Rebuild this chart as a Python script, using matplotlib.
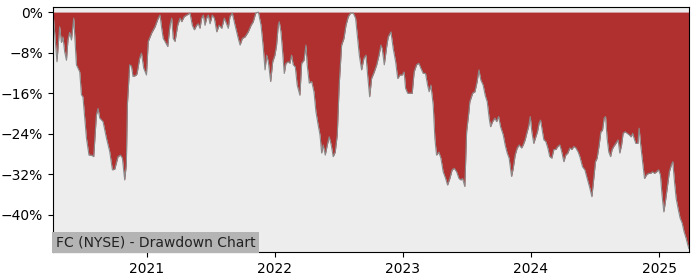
import matplotlib
matplotlib.use("Agg")
import matplotlib.pyplot as plt
import matplotlib.dates as mdates
from matplotlib.ticker import PercentFormatter, MultipleLocator
import pandas as pd

# dates as decimal years, drawdown in percent
years = [
    2020.268, 2020.281, 2020.299, 2020.320, 2020.334, 2020.346, 2020.359, 2020.373, 2020.385, 2020.398,
    2020.412, 2020.430, 2020.451, 2020.477, 2020.490, 2020.502, 2020.529, 2020.549, 2020.568, 2020.586,
    2020.607, 2020.620, 2020.633, 2020.659, 2020.685, 2020.711, 2020.732, 2020.750, 2020.776, 2020.795,
    2020.810, 2020.828, 2020.841, 2020.849, 2020.867, 2020.880, 2020.893, 2020.914, 2020.924, 2020.945,
    2020.959, 2020.977, 2020.998, 2021.010, 2021.037, 2021.063, 2021.088, 2021.102, 2021.115, 2021.127,
    2021.141, 2021.162, 2021.180, 2021.193, 2021.205, 2021.219, 2021.240, 2021.258, 2021.271, 2021.291,
    2021.310, 2021.336, 2021.354, 2021.370, 2021.388, 2021.401, 2021.414, 2021.427, 2021.440, 2021.453,
    2021.466, 2021.479, 2021.492, 2021.510, 2021.526, 2021.545, 2021.563, 2021.584, 2021.604, 2021.615,
    2021.635, 2021.648, 2021.666, 2021.688, 2021.713, 2021.727, 2021.745, 2021.766, 2021.791, 2021.813,
    2021.830, 2021.849, 2021.870, 2021.891, 2021.909, 2021.922, 2021.935, 2021.948, 2021.966, 2021.982,
    2022.000, 2022.013, 2022.026, 2022.034, 2022.047, 2022.060, 2022.073, 2022.086, 2022.104, 2022.117,
    2022.130, 2022.143, 2022.159, 2022.174, 2022.195, 2022.209, 2022.227, 2022.242, 2022.252, 2022.268,
    2022.287, 2022.305, 2022.320, 2022.338, 2022.352, 2022.365, 2022.377, 2022.393, 2022.409, 2022.424,
    2022.440, 2022.455, 2022.471, 2022.487, 2022.502, 2022.521, 2022.539, 2022.555, 2022.573, 2022.591,
    2022.612, 2022.630, 2022.643, 2022.659, 2022.677, 2022.695, 2022.711, 2022.724, 2022.740, 2022.755,
    2022.776, 2022.795, 2022.813, 2022.828, 2022.838, 2022.854, 2022.873, 2022.885, 2022.906, 2022.924,
    2022.943, 2022.959, 2022.977, 2022.995, 2023.010, 2023.021, 2023.037, 2023.055, 2023.073, 2023.088,
    2023.107, 2023.125, 2023.141, 2023.159, 2023.177, 2023.193, 2023.205, 2023.219, 2023.237, 2023.250,
    2023.263, 2023.281, 2023.297, 2023.315, 2023.334, 2023.349, 2023.367, 2023.385, 2023.401, 2023.420,
    2023.438, 2023.453, 2023.466, 2023.484, 2023.498, 2023.516, 2023.523, 2023.545, 2023.563, 2023.580,
    2023.594, 2023.609, 2023.627, 2023.643, 2023.659, 2023.674, 2023.685, 2023.701, 2023.719, 2023.732,
    2023.748, 2023.763, 2023.784, 2023.799, 2023.815, 2023.830, 2023.849, 2023.862, 2023.877, 2023.893,
    2023.909, 2023.927, 2023.940, 2023.955, 2023.971, 2023.982, 2023.995, 2024.008, 2024.023, 2024.039,
    2024.052, 2024.065, 2024.076, 2024.091, 2024.102, 2024.117, 2024.133, 2024.148, 2024.164, 2024.180,
    2024.195, 2024.211, 2024.227, 2024.242, 2024.258, 2024.273, 2024.289, 2024.305, 2024.320, 2024.336,
    2024.352, 2024.370, 2024.383, 2024.404, 2024.422, 2024.440, 2024.461, 2024.477, 2024.492, 2024.505,
    2024.518, 2024.534, 2024.547, 2024.560, 2024.573, 2024.584, 2024.596, 2024.609, 2024.623, 2024.635,
    2024.648, 2024.664, 2024.682, 2024.695, 2024.709, 2024.721, 2024.737, 2024.752, 2024.768, 2024.784,
    2024.795, 2024.807, 2024.820, 2024.836, 2024.846, 2024.857, 2024.873, 2024.888, 2024.904, 2024.920,
    2024.935, 2024.951, 2024.966, 2024.982, 2024.998, 2025.010, 2025.023, 2025.037, 2025.049, 2025.065,
    2025.080, 2025.096, 2025.107, 2025.120, 2025.133, 2025.148, 2025.164, 2025.180, 2025.195, 2025.211,
    2025.221, 2025.232,
]

drawdown = [
    0.0, -4.0, -9.8, -2.9, -6.0, -4.9, -7.8, -9.5, -5.5, -4.0,
    -5.5, -1.2, -10.4, -11.8, -16.3, -16.7, -24.8, -28.2, -28.2, -28.5,
    -20.3, -19.0, -20.9, -21.6, -24.8, -27.5, -31.1, -31.0, -28.5, -28.2,
    -28.8, -33.1, -30.0, -18.3, -10.4, -10.6, -12.7, -12.5, -12.2, -9.1,
    -8.1, -11.1, -12.4, -5.8, -4.1, -2.9, -1.2, -0.6, -3.2, -5.2,
    -5.8, -6.8, -2.6, -1.2, -5.2, -5.8, -2.6, -1.2, -1.9, -0.9,
    -0.6, -0.2, -2.6, -3.5, -2.6, -2.3, -3.2, -1.2, -0.6, -2.6,
    -1.2, -0.6, -2.3, -0.6, -1.2, -3.9, -2.6, -3.2, -1.2, -1.9,
    -3.2, -0.9, -0.2, -2.6, -5.2, -6.5, -5.2, -4.9, -3.9, -2.6,
    -1.9, -0.2, 0.0, -2.6, -7.2, -11.4, -8.5, -9.8, -13.7, -9.8,
    -8.5, -6.5, -2.6, -1.9, -3.9, -7.8, -12.1, -10.1, -9.8, -10.1,
    -8.5, -10.4, -10.8, -14.4, -16.4, -10.1, -9.5, -6.5, -10.4, -14.0,
    -13.7, -15.7, -19.6, -22.3, -24.2, -27.8, -26.2, -28.2, -26.2, -24.6,
    -26.2, -28.5, -27.6, -24.2, -14.4, -6.5, -5.2, -2.6, -0.9, -0.2,
    -0.2, -1.2, -4.5, -8.5, -11.4, -9.1, -8.5, -12.4, -16.7, -13.1,
    -11.8, -10.4, -8.5, -6.5, -7.2, -10.4, -6.8, -4.9, -3.9, -7.2,
    -9.8, -13.1, -12.4, -12.4, -11.8, -15.0, -16.0, -16.0, -16.0, -11.8,
    -10.4, -10.1, -11.1, -12.1, -12.1, -14.4, -15.7, -14.4, -18.3, -24.9,
    -28.2, -27.6, -28.8, -31.5, -32.8, -34.1, -32.8, -31.1, -30.8, -31.5,
    -32.8, -33.1, -32.8, -34.4, -23.6, -19.6, -17.7, -16.0, -15.7, -13.7,
    -11.4, -13.4, -14.4, -16.4, -17.7, -20.9, -22.6, -21.6, -20.9, -21.6,
    -20.6, -22.6, -24.2, -26.2, -27.8, -28.8, -32.4, -30.8, -28.2, -26.8,
    -26.2, -26.8, -26.2, -25.2, -23.6, -22.6, -20.6, -23.6, -25.9, -24.6,
    -23.6, -21.9, -21.3, -23.6, -25.2, -25.5, -26.8, -28.5, -28.8, -27.1,
    -27.1, -26.5, -26.2, -27.6, -29.5, -28.2, -27.8, -26.8, -27.1, -26.5,
    -26.8, -27.6, -28.5, -30.5, -31.1, -32.8, -34.7, -36.4, -32.8, -29.5,
    -28.8, -26.2, -23.6, -23.3, -20.9, -20.6, -24.9, -27.6, -28.5, -27.1,
    -26.5, -25.9, -25.2, -27.8, -26.2, -23.9, -23.6, -23.9, -24.2, -24.6,
    -23.9, -24.9, -25.9, -25.9, -22.9, -25.9, -29.5, -32.8, -32.1, -31.8,
    -31.8, -31.5, -31.8, -31.5, -31.1, -32.1, -36.1, -39.4, -37.4, -34.4,
    -31.5, -30.1, -29.5, -33.4, -36.7, -38.7, -40.6, -41.6, -43.3, -44.6,
    -45.6, -46.6,
]

label = "FC (NYSE) - Drawdown Chart"


def to_date(y):
    yr = int(y)
    start = pd.Timestamp(year=yr, month=1, day=1)
    return start + pd.Timedelta(days=(y - yr) * 365.25)


dates = [to_date(y) for y in years]

fig = plt.figure(figsize=(7, 2.8), dpi=100)
ax = fig.add_axes([0.0757, 0.1, 0.9083, 0.875])
ax.set_facecolor("#ededed")

ax.fill_between(dates, drawdown, 0, color="#b03030", linewidth=0)
ax.plot(dates, drawdown, color="#8a8a8a", linewidth=0.8)

ax.set_xlim(dates[0], dates[-1])
ax.set_ylim(-47.3, 1.0)
ax.yaxis.set_major_locator(MultipleLocator(8))
ax.yaxis.set_major_formatter(PercentFormatter(xmax=100, decimals=0))
ax.xaxis.set_major_locator(mdates.YearLocator())
ax.xaxis.set_major_formatter(mdates.DateFormatter("%Y"))

ax.text(0.004, 0.012, label, transform=ax.transAxes, fontsize=10, color="#222222",
        ha="left", va="bottom",
        bbox=dict(facecolor="#b4b4b4", edgecolor="none", pad=2.5))

fig.savefig("out.png", dpi=100)
